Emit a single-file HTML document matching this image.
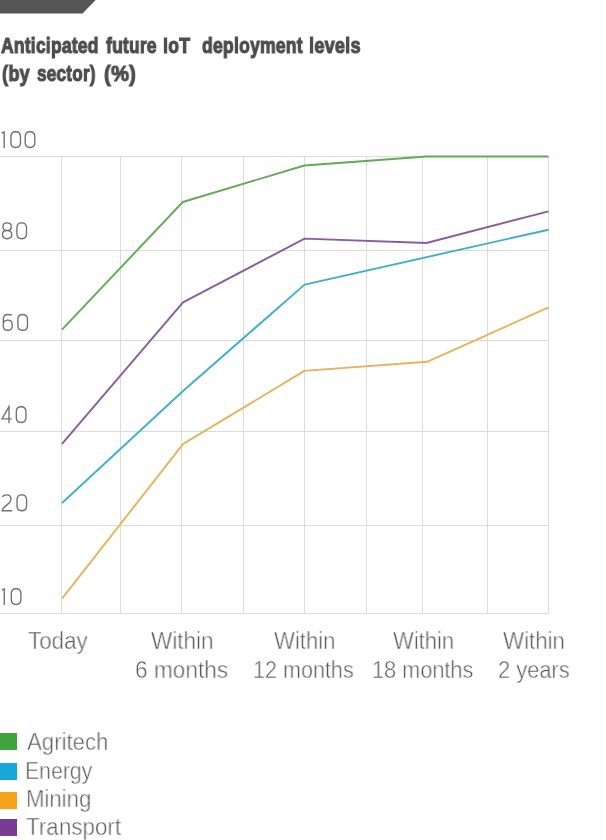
<!DOCTYPE html>
<html>
<head>
<meta charset="utf-8">
<style>
html,body{margin:0;padding:0;background:#fff;}
body{width:606px;height:840px;position:relative;overflow:hidden;font-family:"Liberation Sans",sans-serif;}
.tw{position:absolute;letter-spacing:0.3px;will-change:transform;white-space:nowrap;font-weight:bold;font-size:22px;line-height:22px;color:#4e4e4e;transform-origin:0 0;-webkit-text-stroke:1.1px #4e4e4e;}
.lb{position:absolute;will-change:transform;white-space:nowrap;font-size:23px;line-height:23px;color:#585858;-webkit-text-stroke:0.5px #fff;transform-origin:0 0;}
.sq{position:absolute;left:0;width:17px;height:17px;}
</style>
</head>
<body>
<svg width="606" height="20" style="position:absolute;left:0;top:0">
<polygon points="0,0 95.7,0 82.5,13.4 0,13.4" fill="#555555"/>
</svg>
<span class="tw" style="left:1.33px;top:35.3px;transform:scaleX(0.7934)">Anticipated</span>
<span class="tw" style="left:105.80px;top:35.3px;transform:scaleX(0.7926)">future</span>
<span class="tw" style="left:163.47px;top:35.3px;transform:scaleX(0.8036)">IoT</span>
<span class="tw" style="left:201.86px;top:35.3px;transform:scaleX(0.7980)">deployment</span>
<span class="tw" style="left:308.97px;top:35.3px;transform:scaleX(0.8221)">levels</span>
<span class="tw" style="left:2.30px;top:63.3px;transform:scaleX(0.8259)">(by</span>
<span class="tw" style="left:37.02px;top:63.3px;transform:scaleX(0.7789)">sector)</span>
<span class="tw" style="left:104.46px;top:63.3px;transform:scaleX(0.9136)">(%)</span>

<svg width="606" height="840" style="position:absolute;left:0;top:0">
<g stroke="#dcdcdc" stroke-width="1" fill="none" shape-rendering="crispEdges">
<line x1="0" y1="156.5" x2="548" y2="156.5"/>
<line x1="0" y1="250.5" x2="548" y2="250.5"/>
<line x1="0" y1="340.5" x2="548" y2="340.5"/>
<line x1="0" y1="431.5" x2="548" y2="431.5"/>
<line x1="0" y1="525.5" x2="548" y2="525.5"/>
<line x1="0" y1="613.5" x2="548" y2="613.5"/>
<line x1="61.5" y1="156" x2="61.5" y2="614"/>
<line x1="120.5" y1="156" x2="120.5" y2="614"/>
<line x1="181.5" y1="156" x2="181.5" y2="614"/>
<line x1="243.5" y1="156" x2="243.5" y2="614"/>
<line x1="304.5" y1="156" x2="304.5" y2="614"/>
<line x1="366.5" y1="156" x2="366.5" y2="614"/>
<line x1="422.5" y1="156" x2="422.5" y2="614"/>
<line x1="487.5" y1="156" x2="487.5" y2="614"/>
<line x1="548.5" y1="156" x2="548.5" y2="614"/>
</g>
<g fill="none" stroke-width="1.9" stroke-linejoin="round">
<polyline stroke="#63aa55" points="62,329.6 182.8,202 304.4,165.5 426.5,156.5 548.6,156.5"/>
<polyline stroke="#895c9d" points="62,443.8 183,302.4 304.6,238.6 426.4,243 548.6,211.3"/>
<polyline stroke="#3eb0cc" points="62,503 183,391 304.6,284.6 548.6,229.7"/>
<polyline stroke="#e6b25a" points="62,598.7 183.2,443.9 304.4,370.9 427,361.8 548.6,307.4"/>
</g>
</svg>

<svg width="60" height="620" style="position:absolute;left:0;top:0;overflow:visible">
<g fill="none" stroke="#707070" stroke-width="1.35">
<path transform="translate(1.5,131)" d="M0.3,2.2 L2.7,0.8 M2.7,0.3 L2.7,17"/>
<path transform="translate(10.2,131)" d="M5.5,0.7 C8.4,0.7 10.3,2.6 10.3,5.6 L10.3,11.6 C10.3,14.6 8.4,16.5 5.5,16.5 C2.6,16.5 0.7,14.6 0.7,11.6 L0.7,5.6 C0.7,2.6 2.6,0.7 5.5,0.7 Z"/>
<path transform="translate(24.5,131)" d="M5.5,0.7 C8.4,0.7 10.3,2.6 10.3,5.6 L10.3,11.6 C10.3,14.6 8.4,16.5 5.5,16.5 C2.6,16.5 0.7,14.6 0.7,11.6 L0.7,5.6 C0.7,2.6 2.6,0.7 5.5,0.7 Z"/>
<path transform="translate(2,222.2)" d="M5.1,0.7 C7.6,0.7 9.3,2.3 9.3,4.5 C9.3,6.8 7.6,8.3 5.1,8.3 C2.6,8.3 0.9,6.8 0.9,4.5 C0.9,2.3 2.6,0.7 5.1,0.7 Z M5.1,8.3 C8,8.3 9.8,10 9.8,12.4 C9.8,14.9 8,16.5 5.1,16.5 C2.3,16.5 0.5,14.9 0.5,12.4 C0.5,10 2.3,8.3 5.1,8.3 Z"/>
<path transform="translate(16.2,222.2)" d="M5.5,0.7 C8.4,0.7 10.3,2.6 10.3,5.6 L10.3,11.6 C10.3,14.6 8.4,16.5 5.5,16.5 C2.6,16.5 0.7,14.6 0.7,11.6 L0.7,5.6 C0.7,2.6 2.6,0.7 5.5,0.7 Z"/>
<path transform="translate(2.6,313.8)" d="M9.4,1.0 C8.4,0.8 6.4,0.7 5.2,0.7 C2.4,0.7 0.7,2.6 0.7,5.6 L0.7,12.2 C0.7,14.8 2.5,16.5 5.1,16.5 C7.8,16.5 9.6,14.8 9.6,12.1 L9.6,10.6 C9.6,8 7.8,6.3 5.2,6.3 C3.2,6.3 1.6,7.2 0.7,8.8"/>
<path transform="translate(17.2,313.8)" d="M5.5,0.7 C8.4,0.7 10.3,2.6 10.3,5.6 L10.3,11.6 C10.3,14.6 8.4,16.5 5.5,16.5 C2.6,16.5 0.7,14.6 0.7,11.6 L0.7,5.6 C0.7,2.6 2.6,0.7 5.5,0.7 Z"/>
<path transform="translate(1.3,406)" d="M10.3,12.9 L0.7,12.9 L7.7,0.6 L7.7,17.2"/>
<path transform="translate(15.6,406)" d="M5.5,0.7 C8.4,0.7 10.3,2.6 10.3,5.6 L10.3,11.6 C10.3,14.6 8.4,16.5 5.5,16.5 C2.6,16.5 0.7,14.6 0.7,11.6 L0.7,5.6 C0.7,2.6 2.6,0.7 5.5,0.7 Z"/>
<path transform="translate(1.5,494.2)" d="M0.9,2.6 C1.8,1.3 3.3,0.7 5,0.7 C7.8,0.7 9.5,2.3 9.5,4.7 C9.5,7.3 7.7,8.9 5.2,10.9 C2.5,13 0.7,14.6 0.7,16.5 L10.6,16.5"/>
<path transform="translate(16.3,494.2)" d="M5.5,0.7 C8.4,0.7 10.3,2.6 10.3,5.6 L10.3,11.6 C10.3,14.6 8.4,16.5 5.5,16.5 C2.6,16.5 0.7,14.6 0.7,11.6 L0.7,5.6 C0.7,2.6 2.6,0.7 5.5,0.7 Z"/>
<path transform="translate(1.6,588)" d="M0.3,2.2 L2.7,0.8 M2.7,0.3 L2.7,17"/>
<path transform="translate(10.6,588)" d="M5.5,0.7 C8.4,0.7 10.3,2.6 10.3,5.6 L10.3,11.6 C10.3,14.6 8.4,16.5 5.5,16.5 C2.6,16.5 0.7,14.6 0.7,11.6 L0.7,5.6 C0.7,2.6 2.6,0.7 5.5,0.7 Z"/>
</g>
</svg>

<span class="lb" style="left:27.83px;top:629.6px;transform:scaleX(0.9733)">Today</span>
<span class="lb" style="left:151.40px;top:629.6px;transform:scaleX(0.9790)">Within</span>
<span class="lb" style="left:134.92px;top:658.5px;transform:scaleX(0.9849)">6 months</span>
<span class="lb" style="left:273.70px;top:629.6px;transform:scaleX(0.9613)">Within</span>
<span class="lb" style="left:252.63px;top:658.5px;transform:scaleX(0.9371)">12 months</span>
<span class="lb" style="left:393.20px;top:629.6px;transform:scaleX(0.9565)">Within</span>
<span class="lb" style="left:371.51px;top:658.5px;transform:scaleX(0.9429)">18 months</span>
<span class="lb" style="left:503.20px;top:629.6px;transform:scaleX(0.9694)">Within</span>
<span class="lb" style="left:497.55px;top:658.5px;transform:scaleX(0.9500)">2 years</span>
<span class="lb" style="left:26.9px;top:731.3px;transform:scaleX(0.9651)">Agritech</span>
<span class="lb" style="left:25.0px;top:759.5px;transform:scaleX(0.9239)">Energy</span>
<span class="lb" style="left:25.5px;top:788.2px;transform:scaleX(0.9625)">Mining</span>
<span class="lb" style="left:25.9px;top:816.2px;transform:scaleX(0.974)">Transport</span>

<div class="sq" style="top:733px;background:#41a33d"></div>
<div class="sq" style="top:763px;background:#18a7d9"></div>
<div class="sq" style="top:792px;background:#f6a21c"></div>
<div class="sq" style="top:819px;background:#7a3b94"></div>
</body>
</html>
